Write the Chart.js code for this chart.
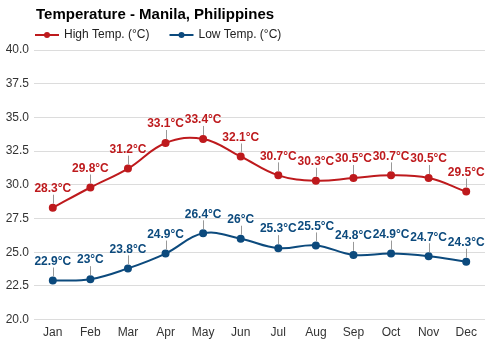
<!DOCTYPE html>
<html>
<head>
<meta charset="utf-8">
<script src="https://cdn.jsdelivr.net/npm/chart.js@4/dist/chart.umd.min.js"></script>
<style>
  html, body { margin: 0; padding: 0; background: #fff; }
  #wrap { width: 500px; height: 350px; }
</style>
</head>
<body>
<div id="wrap"><canvas id="chart" width="500" height="350"></canvas></div>
<script>
const months = ["Jan", "Feb", "Mar", "Apr", "May", "Jun", "Jul", "Aug", "Sep", "Oct", "Nov", "Dec"];
const highTemp = [28.3, 29.8, 31.2, 33.1, 33.4, 32.1, 30.7, 30.3, 30.5, 30.7, 30.5, 29.5];
const lowTemp = [22.9, 23, 23.8, 24.9, 26.4, 26, 25.3, 25.5, 24.8, 24.9, 24.7, 24.3];
const seriesNames = ["High Temp. (°C)", "Low Temp. (°C)"];
const chartTitle = "Temperature - Manila, Philippines";

const RED = "#be1a1d";
const BLUE = "#0c4a7d";
const FONT = "Arial, 'Liberation Sans', sans-serif";

// title + legend drawn by hand, labels above each point with a short leader line
const decorations = {
  id: "decorations",
  afterDraw(chart) {
    const ctx = chart.ctx;
    const left = chart.chartArea.left + 2;
    ctx.save();
    ctx.fillStyle = "#000";
    ctx.font = "bold 15px " + FONT;
    ctx.textBaseline = "middle";
    ctx.textAlign = "left";
    ctx.fillText(chartTitle, left, 15);

    ctx.font = "12px " + FONT;
    let x = left - 1;
    chart.data.datasets.forEach((ds) => {
      ctx.strokeStyle = ds.borderColor;
      ctx.fillStyle = ds.borderColor;
      ctx.lineWidth = 2;
      ctx.beginPath();
      ctx.moveTo(x, 35);
      ctx.lineTo(x + 24, 35);
      ctx.stroke();
      ctx.beginPath();
      ctx.arc(x + 12, 35, 3, 0, Math.PI * 2);
      ctx.fill();
      ctx.fillStyle = "#222";
      ctx.fillText(ds.label, x + 29, 35);
      x += 29 + ctx.measureText(ds.label).width + 19 + 1;
    });
    ctx.restore();
  },
  afterDatasetsDraw(chart) {
    const ctx = chart.ctx;
    ctx.save();
    ctx.font = "bold 12px " + FONT;
    ctx.textAlign = "center";
    ctx.textBaseline = "middle";
    chart.data.datasets.forEach((ds, i) => {
      const meta = chart.getDatasetMeta(i);
      meta.data.forEach((pt, j) => {
        ctx.strokeStyle = "#999";
        ctx.lineWidth = 1;
        ctx.beginPath();
        ctx.moveTo(Math.round(pt.x) + 0.5, pt.y - 4);
        ctx.lineTo(Math.round(pt.x) + 0.5, pt.y - 13);
        ctx.stroke();
        ctx.fillStyle = ds.borderColor;
        ctx.fillText(ds.data[j] + "°C", pt.x, pt.y - 19);
      });
    });
    ctx.restore();
  }
};

const ctx = document.getElementById("chart").getContext("2d");
new Chart(ctx, {
  type: "line",
  data: {
    labels: months,
    datasets: [
      {
        label: seriesNames[0],
        data: highTemp,
        borderColor: RED,
        backgroundColor: RED,
        borderWidth: 2,
        pointRadius: 3,
        pointHoverRadius: 3,
        tension: 0.4
      },
      {
        label: seriesNames[1],
        data: lowTemp,
        borderColor: BLUE,
        backgroundColor: BLUE,
        borderWidth: 2,
        pointRadius: 3,
        pointHoverRadius: 3,
        tension: 0.4
      }
    ]
  },
  options: {
    responsive: false,
    animation: false,
    layout: { padding: { top: 50, right: 15, bottom: 4, left: 0 } },
    plugins: {
      legend: { display: false },
      title: { display: false },
      tooltip: { enabled: false }
    },
    scales: {
      x: {
        offset: true,
        grid: { display: false, drawTicks: false },
        border: { display: false },
        ticks: { color: "#333", font: { size: 12, family: FONT }, padding: 6 }
      },
      y: {
        min: 20,
        max: 40,
        grid: { color: "#dcdcdc", drawTicks: false },
        border: { display: false },
        ticks: {
          stepSize: 2.5,
          color: "#333",
          padding: 5,
          font: { size: 12, family: FONT },
          callback: (v) => v.toFixed(1)
        },
        afterFit(scale) { scale.width = 34; }
      }
    }
  },
  plugins: [decorations]
});
</script>
</body>
</html>
